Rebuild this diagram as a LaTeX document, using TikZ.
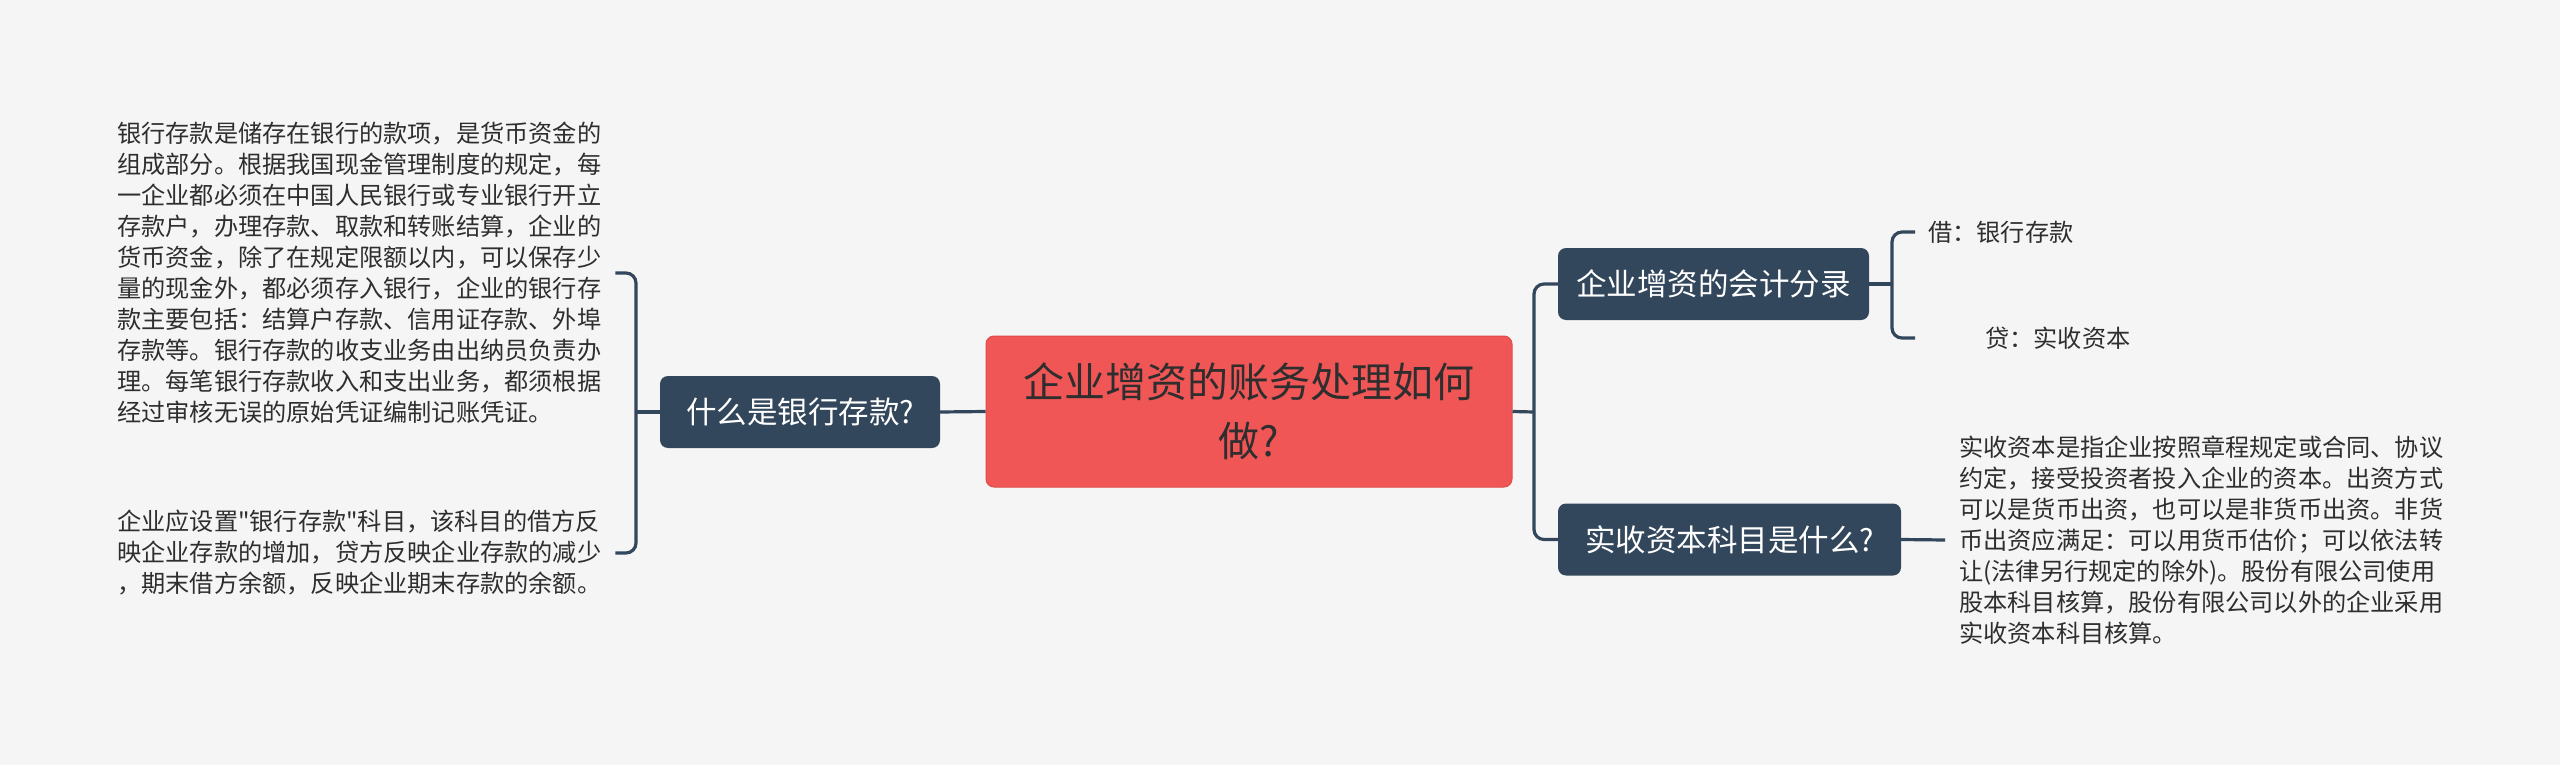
\documentclass[tikz,border=0pt]{standalone}
\usepackage{fontspec}
\setmainfont{Noto Sans CJK SC}[Ligatures=TeXOff]
\definecolor{bg}{HTML}{F5F5F5}
\definecolor{navy}{HTML}{33475C}
\definecolor{rootred}{HTML}{F05656}
\definecolor{rootedge}{HTML}{E04A4A}
\definecolor{txt}{HTML}{2E2E2E}
\tikzset{
  conn/.style={draw=navy, line width=3.2pt, rounded corners=10pt},
  rootbox/.style={rectangle, rounded corners=8pt, fill=rootred, draw=rootedge, line width=1pt,
    minimum width=526pt, minimum height=151pt, inner sep=0pt, align=center,
    text=txt, font=\fontsize{41}{59}\selectfont},
  topicbox/.style={rectangle, rounded corners=8pt, fill=navy, draw=none,
    minimum height=72pt, inner sep=0pt, align=center,
    text=white, font=\fontsize{30.5}{36}\selectfont},
  bodytext/.style={inner sep=0pt, anchor=west, align=left, text width=484pt,
    text=txt, font=\fontsize{24.2}{31}\selectfont},
  leaftext/.style={inner sep=0pt, anchor=west, text=txt, font=\fontsize{24.2}{31}\selectfont}
}
\begin{document}
\begin{tikzpicture}[x=1pt,y=-1pt]
\useasboundingbox (0,0) rectangle (2560,765);
\fill[bg] (0,0) rectangle (2560,765);

\node[rootbox] (root) at (1249,411.5) {企业增资的账务处理如何\\做?};
\node[topicbox, minimum width=280pt] (bank) at (800,412) {什么是银行存款?};
\node[topicbox, minimum width=311pt] (entry) at (1713.5,284) {企业增资的会计分录};
\node[topicbox, minimum width=343pt] (capital) at (1729.5,539.5) {实收资本科目是什么?};

\node[bodytext] (b1) at (117,273) {银行存款是储存在银行的款项，是货币资金的\\
组成部分。根据我国现金管理制度的规定，每\\
一企业都必须在中国人民银行或专业银行开立\\
存款户，办理存款、取款和转账结算，企业的\\
货币资金，除了在规定限额以内，可以保存少\\
量的现金外，都必须存入银行，企业的银行存\\
款主要包括：结算户存款、信用证存款、外埠\\
存款等。银行存款的收支业务由出纳员负责办\\
理。每笔银行存款收入和支出业务，都须根据\\
经过审核无误的原始凭证编制记账凭证。};

\node[bodytext] (b2) at (117,553) {企业应设置"银行存款"科目，该科目的借方反\\
映企业存款的增加，贷方反映企业存款的减少\\
，期末借方余额，反映企业期末存款的余额。};

\node[bodytext] (c1) at (1959,540) {实收资本是指企业按照章程规定或合同、协议\\
约定，接受投资者投入企业的资本。出资方式\\
可以是货币出资，也可以是非货币出资。非货\\
币出资应满足：可以用货币估价；可以依法转\\
让(法律另行规定的除外)。股份有限公司使用\\
股本科目核算，股份有限公司以外的企业采用\\
实收资本科目核算。};

\node[leaftext] (debit) at (1928,232) {借：银行存款};
\node[leaftext] (credit) at (1985,338) {贷：实收资本};

% connectors
\coordinate (lb) at (636,412);
\coordinate (rb) at (1534,412);
\coordinate (sb) at (1892,284);
\draw[conn] (bank.west) -- (lb);
\draw[conn] ([xshift=14pt]b1.east) -| (lb);
\draw[conn] ([xshift=14pt]b2.east) -| (lb);
\draw[conn] (root.west) -- (bank.east);
\draw[conn] (root.east) -- (rb);
\draw[conn] (rb) |- (entry.west);
\draw[conn] (rb) |- (capital.west);
\draw[conn] (entry.east) -- (sb);
\draw[conn] (sb) |- ([xshift=-13pt]debit.west);
\draw[conn] (sb) |- ([xshift=-70pt]credit.west);
\draw[conn] (capital.east) -- ([xshift=-14pt]c1.west);
\end{tikzpicture}
\end{document}
